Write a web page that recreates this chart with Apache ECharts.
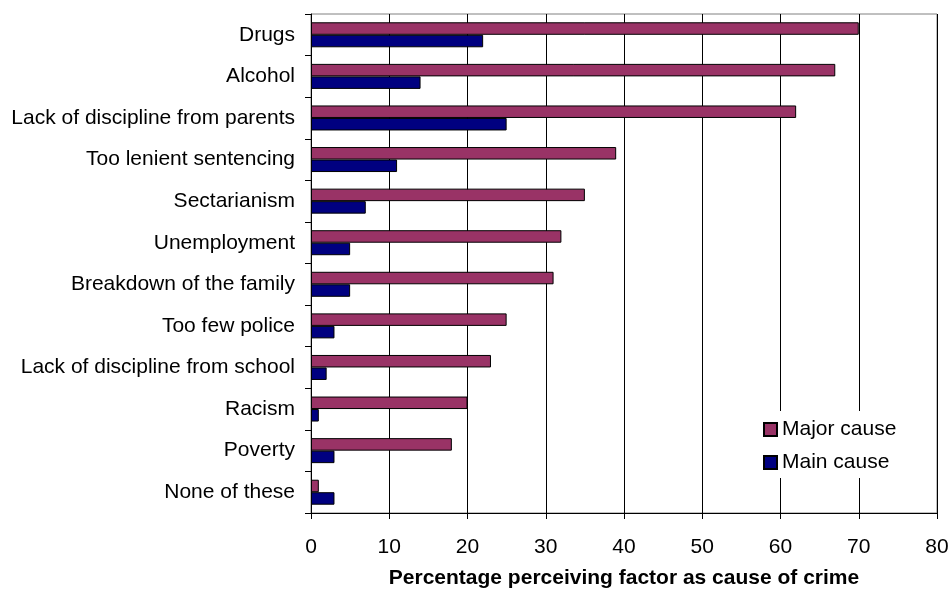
<!DOCTYPE html>
<html><head><meta charset="utf-8">
<script src="https://cdn.jsdelivr.net/npm/echarts@6/dist/echarts.min.js"></script>
<style>html,body{margin:0;padding:0;background:#fff}#c{width:951px;height:590px}</style>
</head><body><div id="c"></div>
<script>
const categories = ["Drugs","Alcohol","Lack of discipline from parents","Too lenient sentencing","Sectarianism","Unemployment","Breakdown of the family","Too few police","Lack of discipline from school","Racism","Poverty","None of these"];
const majorCause = [70,67,62,39,35,32,31,25,23,20,18,1];
const mainCause = [22,14,25,11,7,5,5,3,2,1,3,3];
const xTicks = {min:0,max:80,interval:10};
const axisTitle = "Percentage perceiving factor as cause of crime";

const chart = echarts.init(document.getElementById('c'));
const font = "Liberation Sans, Arial, sans-serif";
chart.setOption({
  animation:false,
  backgroundColor:'#fff',
  grid:{left:311,right:14,top:14,bottom:77,containLabel:false,outerBoundsMode:'none',
    show:true,borderColor:'#808080',borderWidth:1},
  legend:{orient:'vertical',left:753,top:411,itemWidth:13,itemHeight:13,itemGap:12,
    backgroundColor:'#fff',padding:[8,12,5,10],
    textStyle:{fontFamily:font,fontSize:21,color:'#000'},
    data:[{name:'Major cause',icon:'rect'},{name:'Main cause',icon:'rect'}]},
  xAxis:{type:'value',min:xTicks.min,max:xTicks.max,interval:xTicks.interval,
    name:axisTitle,nameLocation:'middle',nameGap:55,
    nameTextStyle:{fontFamily:font,fontSize:21,fontWeight:'bold',color:'#000'},
    axisLine:{show:true,lineStyle:{color:'#000',width:1}},
    axisTick:{show:true,length:6,lineStyle:{color:'#000'}},
    axisLabel:{fontFamily:font,fontSize:21,color:'#000',margin:24},
    splitLine:{show:true,lineStyle:{color:'#000',width:1}}},
  yAxis:{type:'category',data:categories,inverse:true,
    axisLine:{show:true,lineStyle:{color:'#000',width:1}},
    axisTick:{show:true,length:6,lineStyle:{color:'#000'}},
    axisLabel:{fontFamily:font,fontSize:21,color:'#000',margin:16},
    splitLine:{show:false}},
  series:[
    {name:'Major cause',type:'bar',data:majorCause,barWidth:12.5,barGap:'0%',
     itemStyle:{color:'#993366',borderColor:'#000',borderWidth:1}},
    {name:'Main cause',type:'bar',data:mainCause,barWidth:12.5,barGap:'0%',
     itemStyle:{color:'#000080',borderColor:'#000',borderWidth:1}}
  ]
});
</script></body></html>
